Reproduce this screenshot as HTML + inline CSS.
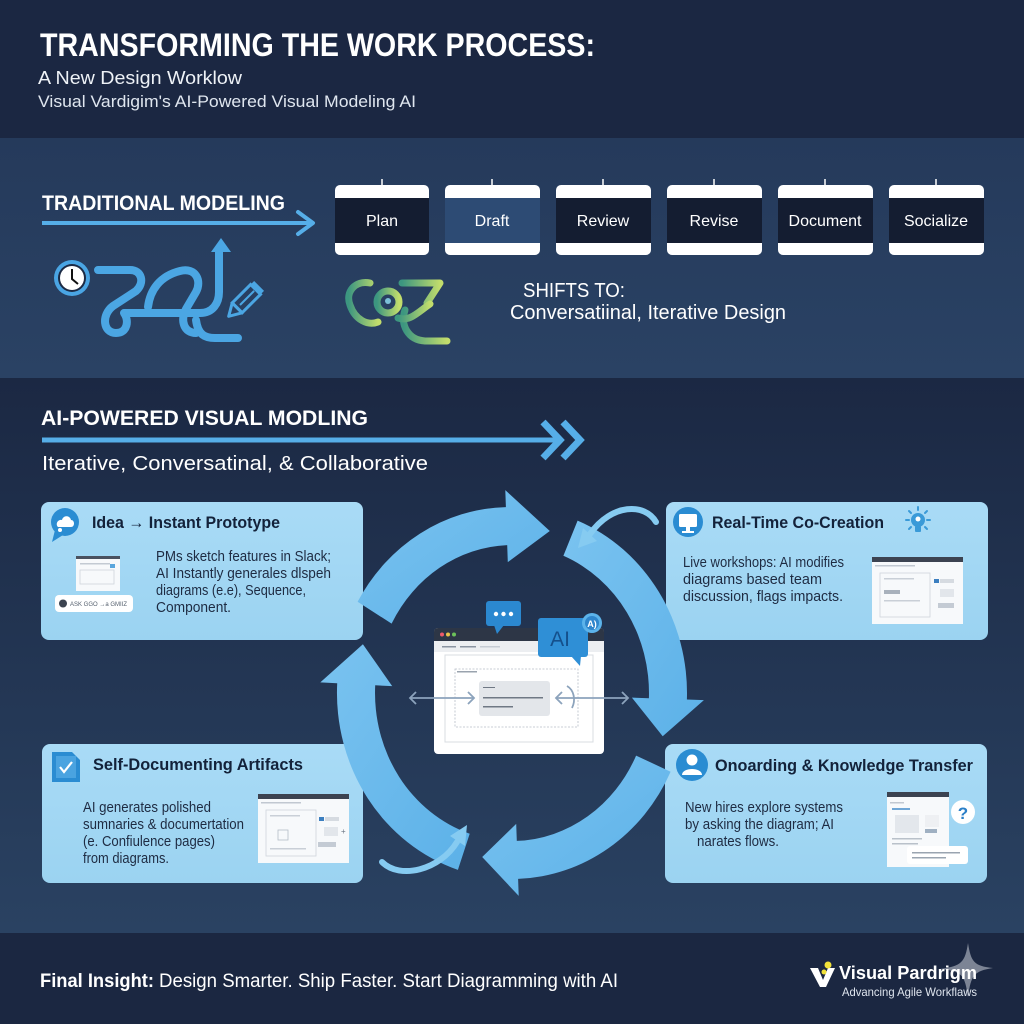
<!DOCTYPE html>
<html><head><meta charset="utf-8"><style>html,body{margin:0;padding:0;background:#1b2742;}svg{display:block;}</style></head>
<body>
<svg width="1024" height="1024" viewBox="0 0 1024 1024" xmlns="http://www.w3.org/2000/svg" font-family="'Liberation Sans', sans-serif">
<defs>
<linearGradient id="sec3" x1="0" y1="0" x2="0" y2="1"><stop offset="0" stop-color="#1b2843"/><stop offset="1" stop-color="#2a4262"/></linearGradient>
<linearGradient id="sec2" x1="0" y1="0" x2="0" y2="1"><stop offset="0" stop-color="#253a5b"/><stop offset="1" stop-color="#2a4264"/></linearGradient>
<linearGradient id="ring" x1="0" y1="0" x2="1" y2="1"><stop offset="0" stop-color="#7ac3f0"/><stop offset="1" stop-color="#5cb1e8"/></linearGradient>
<linearGradient id="card" x1="0" y1="0" x2="0" y2="1"><stop offset="0" stop-color="#a9dbf6"/><stop offset="1" stop-color="#9bd3f1"/></linearGradient>
<linearGradient id="green" x1="0" y1="0" x2="1" y2="0"><stop offset="0" stop-color="#3c9680"/><stop offset="1" stop-color="#c2dd6c"/></linearGradient>
</defs>

<rect x="0" y="0" width="1024" height="138" fill="#1b2742"/>
<rect x="0" y="138" width="1024" height="240" fill="url(#sec2)"/>
<rect x="0" y="378" width="1024" height="555" fill="url(#sec3)"/>
<rect x="0" y="933" width="1024" height="91" fill="#1b2741"/>

<text x="40" y="56" font-size="32" font-weight="bold" fill="#ffffff" textLength="555" lengthAdjust="spacingAndGlyphs">TRANSFORMING THE WORK PROCESS:</text>
<text x="38" y="84" font-size="18" fill="#eef2f7" textLength="204" lengthAdjust="spacingAndGlyphs">A New Design Worklow</text>
<text x="38" y="107" font-size="17" fill="#dfe6ef" textLength="378" lengthAdjust="spacingAndGlyphs">Visual Vardigim's AI-Powered Visual Modeling AI</text>

<text x="42" y="210" font-size="21" font-weight="bold" fill="#ffffff" textLength="243" lengthAdjust="spacingAndGlyphs">TRADITIONAL MODELING</text>
<line x1="42" y1="223" x2="312" y2="223" stroke="#56aee8" stroke-width="4"/>
<polyline points="298,212 313,223 298,234" fill="none" stroke="#56aee8" stroke-width="4" stroke-linejoin="round" stroke-linecap="round"/>

<g font-size="16" fill="#ffffff" text-anchor="middle">
<g>
<line x1="382" y1="179" x2="382" y2="186" stroke="#ffffff" stroke-width="1.5"/>
<rect x="335" y="185" width="94" height="70" rx="5" fill="#ffffff"/>
<rect x="335" y="198" width="94" height="45" fill="#141d31"/>
<text x="382" y="226">Plan</text>
</g>
<g>
<line x1="492" y1="179" x2="492" y2="186" stroke="#ffffff" stroke-width="1.5"/>
<rect x="445" y="185" width="95" height="70" rx="5" fill="#ffffff"/>
<rect x="445" y="198" width="95" height="45" fill="#2d4b74"/>
<text x="492" y="226">Draft</text>
</g>
<g>
<line x1="603" y1="179" x2="603" y2="186" stroke="#ffffff" stroke-width="1.5"/>
<rect x="556" y="185" width="95" height="70" rx="5" fill="#ffffff"/>
<rect x="556" y="198" width="95" height="45" fill="#141d31"/>
<text x="603" y="226">Review</text>
</g>
<g>
<line x1="714" y1="179" x2="714" y2="186" stroke="#ffffff" stroke-width="1.5"/>
<rect x="667" y="185" width="95" height="70" rx="5" fill="#ffffff"/>
<rect x="667" y="198" width="95" height="45" fill="#141d31"/>
<text x="714" y="226">Revise</text>
</g>
<g>
<line x1="825" y1="179" x2="825" y2="186" stroke="#ffffff" stroke-width="1.5"/>
<rect x="778" y="185" width="95" height="70" rx="5" fill="#ffffff"/>
<rect x="778" y="198" width="95" height="45" fill="#141d31"/>
<text x="825" y="226">Document</text>
</g>
<g>
<line x1="936" y1="179" x2="936" y2="186" stroke="#ffffff" stroke-width="1.5"/>
<rect x="889" y="185" width="95" height="70" rx="5" fill="#ffffff"/>
<rect x="889" y="198" width="95" height="45" fill="#141d31"/>
<text x="936" y="226">Socialize</text>
</g>
</g>

<g fill="none" stroke="#4ba6e3" stroke-width="8" stroke-linecap="round" stroke-linejoin="round">
<path d="M98,270 H130 C142,270 145,283 136,291 L113,306 C101,315 103,333 116,333 C128,333 129,320 124,313 H200 C213,313 219,303 219,292 V250"/>
<path d="M148,307 C150,290 160,276 180,271 C196,267 202,281 196,292 L186,309 C180,321 184,333 196,333"/>
<path d="M196,320 C198,335 205,338 215,338 H238"/>
</g>
<polygon points="221,238 211,252 231,252" fill="#4ba6e3"/>
<g transform="translate(240,305) rotate(-45)">
<rect x="-4" y="-7" width="26" height="14" fill="none" stroke="#4ba6e3" stroke-width="3"/>
<line x1="0" y1="0" x2="20" y2="0" stroke="#4ba6e3" stroke-width="2"/>
<polygon points="-4,-7 -16,0 -4,7" fill="none" stroke="#4ba6e3" stroke-width="3" stroke-linejoin="round"/>
<rect x="22" y="-7" width="5" height="14" fill="#4ba6e3"/>
</g>
<circle cx="72" cy="278" r="18" fill="#4aa5e4"/>
<circle cx="72" cy="278" r="14" fill="#1c2a44"/>
<circle cx="72" cy="278" r="12" fill="#ffffff"/>
<path d="M72,269 V279 L78,284" fill="none" stroke="#111" stroke-width="2"/>

<g fill="none" stroke="url(#green)" stroke-width="7" stroke-linecap="round" stroke-linejoin="round">
<path d="M370,283 C355,280 345,292 350,305 C355,320 368,326 378,322"/>
<circle cx="388" cy="302" r="11"/>
<path d="M402,283 H440 L427,303"/>
<path d="M427,313 H452"/>
<path d="M405,310 C400,325 408,340 425,341 H447"/>
<path d="M398,318 C410,322 418,312 430,304"/>
</g>
<circle cx="388" cy="301" r="3" fill="#7cc0d8"/>

<text x="523" y="297" font-size="20" fill="#ffffff" textLength="102" lengthAdjust="spacingAndGlyphs">SHIFTS TO:</text>
<text x="510" y="319" font-size="20" fill="#ffffff" textLength="276" lengthAdjust="spacingAndGlyphs">Conversatiinal, Iterative Design</text>

<text x="41" y="425" font-size="21" font-weight="bold" fill="#ffffff" textLength="327" lengthAdjust="spacingAndGlyphs">AI-POWERED VISUAL MODLING</text>
<line x1="42" y1="440" x2="560" y2="440" stroke="#56aee8" stroke-width="5"/>
<polyline points="543,422 560,440 543,458" fill="none" stroke="#56aee8" stroke-width="7"/>
<polyline points="563,422 580,440 563,458" fill="none" stroke="#56aee8" stroke-width="7"/>
<text x="42" y="470" font-size="20" fill="#ffffff" textLength="386" lengthAdjust="spacingAndGlyphs">Iterative, Conversatinal, &amp; Collaborative</text>

<rect x="41" y="502" width="322" height="138" rx="8" fill="url(#card)"/>
<rect x="666" y="502" width="322" height="138" rx="8" fill="url(#card)"/>
<rect x="42" y="744" width="321" height="139" rx="8" fill="url(#card)"/>
<rect x="665" y="744" width="322" height="139" rx="8" fill="url(#card)"/>

<circle cx="65" cy="522" r="14" fill="#2a8cd2"/>
<polygon points="55,530 52,542 63,535" fill="#2a8cd2"/>
<path d="M58,527 C55,524 58,519 62,520 C63,515 70,515 71,520 C75,520 75,527 71,527 Z" fill="#ffffff"/>
<circle cx="60" cy="530" r="2" fill="#ffffff"/>
<text x="92" y="528" font-size="17" font-weight="bold" fill="#13223a" textLength="188" lengthAdjust="spacingAndGlyphs">Idea → Instant Prototype</text>
<rect x="76" y="556" width="44" height="35" fill="#f7f9fb"/>
<rect x="76" y="556" width="44" height="3" fill="#4a5260"/>
<rect x="80" y="563" width="30" height="1.5" fill="#c3cad3"/>
<rect x="80" y="570" width="34" height="14" fill="none" stroke="#cfd5dc" stroke-width="0.8"/>
<rect x="110" y="564" width="5" height="4" fill="#5aa6dd"/>
<rect x="55" y="595" width="78" height="17" rx="4" fill="#ffffff"/>
<circle cx="63" cy="603.5" r="4" fill="#3b4350"/>
<text x="70" y="606" font-size="6" fill="#55606e">ASK GGO →a GMIIZ</text>
<g font-size="15" fill="#1e2b42">
<text x="156" y="561" textLength="175" lengthAdjust="spacingAndGlyphs">PMs sketch features in Slack;</text>
<text x="156" y="578" textLength="175" lengthAdjust="spacingAndGlyphs">AI Instantly generales dlspeh</text>
<text x="156" y="595" textLength="150" lengthAdjust="spacingAndGlyphs">diagrams (e.e), Sequence,</text>
<text x="156" y="612" textLength="75" lengthAdjust="spacingAndGlyphs">Component.</text>
</g>

<circle cx="688" cy="522" r="15" fill="#2a8cd2"/>
<rect x="679" y="514" width="18" height="13" rx="1.5" fill="#ffffff"/>
<rect x="686" y="527" width="4" height="4" fill="#ffffff"/>
<rect x="682" y="531" width="12" height="2" fill="#ffffff"/>
<text x="712" y="528" font-size="17" font-weight="bold" fill="#13223a" textLength="172" lengthAdjust="spacingAndGlyphs">Real-Time Co-Creation</text>
<g>
<circle cx="918" cy="520" r="7" fill="#3a9ad8"/>
<rect x="915" y="526" width="6" height="6" rx="1" fill="#3a9ad8"/>
<g stroke="#3a9ad8" stroke-width="2" stroke-linecap="round">
<line x1="918" y1="507" x2="918" y2="510"/><line x1="906" y1="520" x2="909" y2="520"/><line x1="927" y1="520" x2="930" y2="520"/>
<line x1="909" y1="511" x2="911" y2="513"/><line x1="927" y1="511" x2="925" y2="513"/>
<line x1="909" y1="529" x2="911" y2="527"/><line x1="927" y1="529" x2="925" y2="527"/>
</g>
<circle cx="918" cy="519" r="2.5" fill="#ffffff"/>
</g>
<g font-size="15" fill="#1e2b42">
<text x="683" y="567" textLength="161" lengthAdjust="spacingAndGlyphs">Live workshops: AI modifies</text>
<text x="683" y="584" textLength="139" lengthAdjust="spacingAndGlyphs">diagrams based team</text>
<text x="683" y="601" textLength="160" lengthAdjust="spacingAndGlyphs">discussion, flags impacts.</text>
</g>
<rect x="872" y="557" width="91" height="67" fill="#f7f9fb"/>
<rect x="872" y="557" width="91" height="5" fill="#3c4351"/>
<rect x="875" y="565" width="40" height="1.5" fill="#c1c8d1"/>
<rect x="880" y="573" width="50" height="44" fill="none" stroke="#cfd5dc" stroke-width="0.8"/>
<rect x="884" y="578" width="30" height="1.5" fill="#c9cfd7"/>
<rect x="884" y="590" width="16" height="4" fill="#a8b1bc"/>
<rect x="884" y="600" width="36" height="1.5" fill="#c9cfd7"/>
<rect x="934" y="579" width="5" height="4" fill="#3c7fc0"/>
<rect x="940" y="579" width="14" height="4" fill="#d6dbe1"/>
<rect x="940" y="589" width="14" height="8" fill="#e2e6eb"/>
<rect x="938" y="603" width="16" height="5" fill="#c4cbd4"/>

<path d="M52,752 H72 L80,760 V782 H52 Z" fill="#2a8cd2"/>
<rect x="56" y="756" width="20" height="22" fill="#4aa3e0"/>
<path d="M60,767 L64,772 L72,762" fill="none" stroke="#ffffff" stroke-width="2.2"/>
<text x="93" y="770" font-size="17" font-weight="bold" fill="#13223a" textLength="210" lengthAdjust="spacingAndGlyphs">Self-Documenting Artifacts</text>
<g font-size="15" fill="#1e2b42">
<text x="83" y="812" textLength="128" lengthAdjust="spacingAndGlyphs">AI generates polished</text>
<text x="83" y="829" textLength="161" lengthAdjust="spacingAndGlyphs">sumnaries &amp; documertation</text>
<text x="83" y="846" textLength="132" lengthAdjust="spacingAndGlyphs">(e. Confiulence pages)</text>
<text x="83" y="863" textLength="86" lengthAdjust="spacingAndGlyphs">from diagrams.</text>
</g>
<rect x="258" y="794" width="91" height="69" fill="#f7f9fb"/>
<rect x="258" y="794" width="91" height="5" fill="#3c4351"/>
<rect x="261" y="802" width="40" height="1.5" fill="#c1c8d1"/>
<rect x="266" y="810" width="50" height="46" fill="none" stroke="#cfd5dc" stroke-width="0.8"/>
<rect x="270" y="815" width="30" height="1.5" fill="#c9cfd7"/>
<rect x="278" y="830" width="10" height="10" fill="none" stroke="#b5bdc7" stroke-width="0.8"/>
<rect x="270" y="848" width="36" height="1.5" fill="#c9cfd7"/>
<rect x="319" y="817" width="5" height="4" fill="#3c7fc0"/>
<rect x="325" y="817" width="14" height="4" fill="#d6dbe1"/>
<rect x="324" y="827" width="14" height="9" fill="#e2e6eb"/>
<rect x="318" y="842" width="18" height="5" fill="#c4cbd4"/>
<text x="341" y="834" font-size="8" fill="#6b7684">+</text>

<circle cx="692" cy="765" r="16" fill="#2a8cd2"/>
<circle cx="692" cy="760" r="5.5" fill="#ffffff"/>
<path d="M682,775 C682,767 702,767 702,775 Z" fill="#ffffff"/>
<text x="715" y="771" font-size="17" font-weight="bold" fill="#13223a" textLength="258" lengthAdjust="spacingAndGlyphs">Onoarding &amp; Knowledge Transfer</text>
<g font-size="15" fill="#1e2b42">
<text x="685" y="812" textLength="158" lengthAdjust="spacingAndGlyphs">New hires explore systems</text>
<text x="685" y="829" textLength="149" lengthAdjust="spacingAndGlyphs">by asking the diagram; AI</text>
<text x="697" y="846" textLength="82" lengthAdjust="spacingAndGlyphs">narates flows.</text>
</g>
<rect x="887" y="792" width="62" height="75" fill="#f7f9fb"/>
<rect x="887" y="792" width="62" height="5" fill="#3c4351"/>
<rect x="890" y="802" width="14" height="1.5" fill="#c1c8d1"/>
<rect x="892" y="808" width="18" height="2" fill="#6fa6d6"/>
<rect x="895" y="815" width="24" height="18" fill="#e3e7ec"/>
<rect x="925" y="815" width="14" height="12" fill="#eef0f3"/>
<rect x="925" y="829" width="12" height="4" fill="#9fb0c2"/>
<rect x="892" y="838" width="30" height="1.5" fill="#b9c1ca"/>
<rect x="892" y="843" width="26" height="1.5" fill="#b9c1ca"/>
<rect x="907" y="846" width="61" height="18" rx="3" fill="#ffffff"/>
<rect x="912" y="852" width="48" height="1.5" fill="#9aa4b0"/>
<rect x="912" y="857" width="34" height="1.5" fill="#9aa4b0"/>
<circle cx="963" cy="812" r="12" fill="#ffffff"/>
<text x="963" y="819" font-size="17" font-weight="bold" fill="#2a7fc8" text-anchor="middle">?</text>

<g fill="url(#ring)">
<path d="M457.9,869.9 A175,186 0 0,1 337.2,683.3 L320.3,682.4 L362.9,644.2 L392.2,686.1 L375.2,685.3 A137,148 0 0,0 469.7,833.7 Z"/>
<path d="M670.6,771.7 A175,186 0 0,1 518.1,878.9 L518.7,895.9 L482.2,857 L516.2,823.9 L516.8,840.9 A137,148 0 0,0 636.1,755.6 Z"/>
<path d="M577.6,520.6 A175,186 0 0,1 686.9,699.5 L703.9,700.1 L662.7,736.3 L631.9,697.6 L648.9,698.2 A137,148 0 0,0 563.4,555.8 Z"/>
<path d="M357.6,601.8 A175,186 0 0,1 505.9,507.1 L505.3,490.1 L549.8,531 L507.8,562.1 L507.2,545.1 A137,148 0 0,0 391.6,623.6 Z"/>
</g>
<path d="M656,522 C645,503 612,503 590,534" fill="none" stroke="#86cbf1" stroke-width="6" stroke-linecap="round"/>
<polygon points="597,541 583,528 578,548" fill="#86cbf1"/>
<path d="M382,862 C400,880 440,870 457,842" fill="none" stroke="#86cbf1" stroke-width="6" stroke-linecap="round"/>
<polygon points="465,846 450,836 467,825" fill="#86cbf1"/>

<rect x="434" y="628" width="170" height="126" rx="4" fill="#ffffff"/>
<path d="M434,641 V632 Q434,628 438,628 H600 Q604,628 604,632 V641 Z" fill="#2d3646"/>
<circle cx="442" cy="634.5" r="2" fill="#ee5a6a"/>
<circle cx="448" cy="634.5" r="2" fill="#e8c34a"/>
<circle cx="454" cy="634.5" r="2" fill="#6cc25a"/>
<rect x="434" y="641" width="170" height="11" fill="#eceef1"/>
<rect x="442" y="646" width="14" height="1.5" fill="#8a94a1"/>
<rect x="460" y="646" width="16" height="1.5" fill="#8a94a1"/>
<rect x="480" y="646" width="20" height="1.5" fill="#c6ccd4"/>
<rect x="445" y="655" width="148" height="87" fill="#ffffff" stroke="#d8dce2" stroke-width="1"/>
<rect x="455" y="669" width="123" height="58" fill="none" stroke="#b7bec8" stroke-width="0.8" stroke-dasharray="2,1.5"/>
<rect x="457" y="671" width="20" height="1.5" fill="#9aa3ae"/>
<rect x="479" y="681" width="71" height="35" rx="3" fill="#e3e6ea"/>
<rect x="483" y="687" width="12" height="1" fill="#6f7884"/>
<rect x="483" y="697" width="60" height="1.5" fill="#6f7884"/>
<rect x="483" y="706" width="30" height="1.5" fill="#6f7884"/>
<g stroke="#8ca3bc" stroke-width="1.8" fill="none">
<line x1="410" y1="698" x2="474" y2="698"/>
<polyline points="416,692 410,698 416,704"/>
<polyline points="468,692 474,698 468,704"/>
<line x1="556" y1="698" x2="628" y2="698"/>
<polyline points="562,692 556,698 562,704"/>
<polyline points="622,692 628,698 622,704"/>
<path d="M567,686 C574,690 576,700 572,708"/>
</g>
<rect x="486" y="601" width="35" height="25" rx="3" fill="#2b88d0"/>
<polygon points="494,625 497,634 504,625" fill="#2b88d0"/>
<circle cx="496" cy="614" r="2.2" fill="#ffffff"/>
<circle cx="503.5" cy="614" r="2.2" fill="#ffffff"/>
<circle cx="511" cy="614" r="2.2" fill="#ffffff"/>
<rect x="538" y="618" width="50" height="39" rx="3" fill="#2f8fd6"/>
<polygon points="571,656 580,666 581,656" fill="#2f8fd6"/>
<text x="560" y="646" font-size="21" fill="#14508c" text-anchor="middle">AI</text>
<circle cx="592" cy="623" r="10" fill="#5cb3ea"/>
<circle cx="592" cy="623" r="7" fill="#2f86cc"/>
<text x="592" y="627" font-size="9" font-weight="bold" fill="#ffffff" text-anchor="middle">A)</text>

<text x="40" y="987" font-size="19" font-weight="bold" fill="#ffffff" textLength="114" lengthAdjust="spacingAndGlyphs">Final Insight:</text>
<text x="159" y="987" font-size="19" fill="#ffffff" textLength="459" lengthAdjust="spacingAndGlyphs">Design Smarter. Ship Faster. Start Diagramming with AI</text>

<path d="M968,943 C971,962 974,966 993,968 C974,971 971,975 968,997 C965,975 962,971 940,969 C962,966 965,962 968,943 Z" fill="#8d95a4" opacity="0.85"/>
<path d="M810,968 L818,968 L823,980 L828,968 L835,968 L826,987 L820,987 Z" fill="#ffffff"/>
<circle cx="828" cy="965" r="3.5" fill="#f2e23a"/>
<circle cx="824" cy="972" r="2.5" fill="#f2e23a"/>
<text x="839" y="979" font-size="18" font-weight="bold" fill="#ffffff" textLength="138" lengthAdjust="spacingAndGlyphs">Visual Pardrigm</text>
<text x="842" y="996" font-size="12" fill="#dfe5ee" textLength="135" lengthAdjust="spacingAndGlyphs">Advancing Agile Workflaws</text>
</svg>
</body></html>
